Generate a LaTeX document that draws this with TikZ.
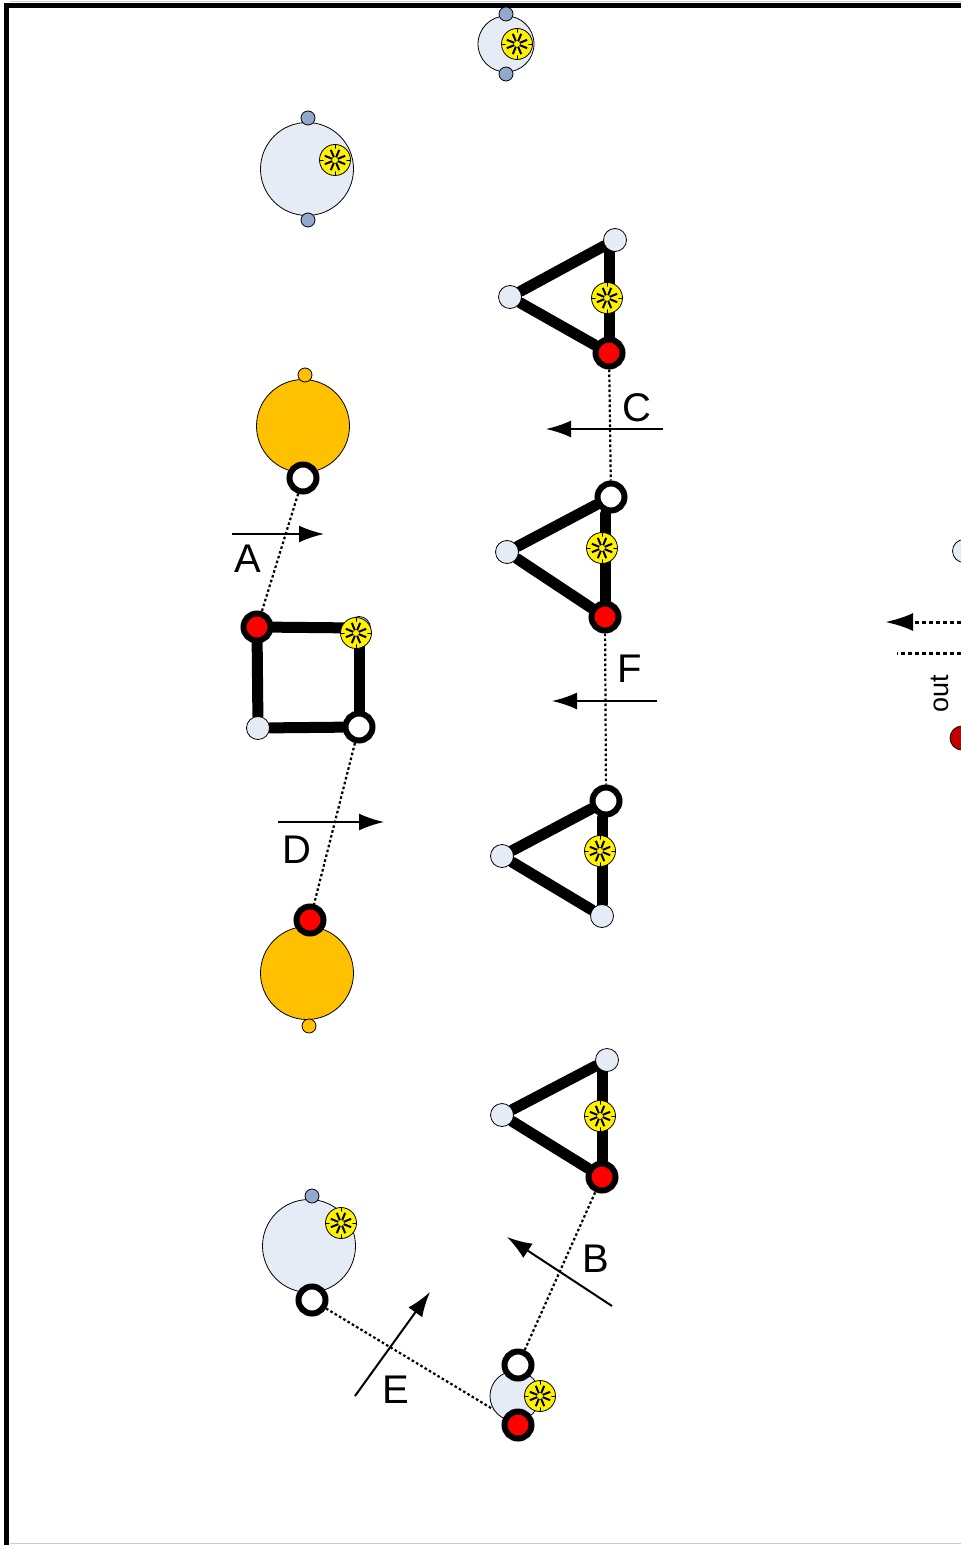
\documentclass[tikz,border=0pt]{standalone}
\usepackage{fontspec}
\setmainfont{Liberation Sans}
\usetikzlibrary{arrows.meta,backgrounds}
\definecolor{lightfill}{RGB}{230,236,246}
\definecolor{dotblue}{RGB}{146,168,204}
\definecolor{goalorange}{RGB}{255,192,0}
\definecolor{outred}{RGB}{192,0,0}
\tikzset{
    every node/.style={inner sep=0pt},
    zone/.style={circle, draw, line width=0.4pt, minimum size=46.5pt},
    marker/.style={circle, draw, line width=0.4pt, minimum size=7pt},
    cone/.style={circle, draw, fill=lightfill, line width=0.4pt, minimum size=11.5pt},
    player/.style={circle, draw, line width=3pt, minimum size=13.5pt},
    ball/.style={circle, draw, fill=yellow, line width=0.4pt, minimum size=15.5pt,
        path picture={
            \draw[line width=0.4pt] (path picture bounding box.north) -- (path picture bounding box.south)
                (path picture bounding box.west) -- (path picture bounding box.east);
            \begin{scope}[shift={(path picture bounding box.center)}]
                \foreach \a in {0,45,...,315}
                    \fill (\a:0.5pt) -- (\a-20:6pt) -- (\a+20:6pt) -- cycle;
                \foreach \a in {22.5,67.5,...,337.5}
                    \draw[line width=1pt] (0,0) -- (\a:5.5pt);
                \fill (0,0) circle (1.5pt);
            \end{scope}
        }},
    bar/.style={line width=5.5pt, line cap=round},
    pass/.style={line width=1.1pt, dash pattern=on 1.3pt off 1.2pt},
    run/.style={line width=1pt, -{Latex[length=12.5pt,width=8.5pt]}},
    lbl/.style={font=\fontsize{20}{24}\selectfont},
}
\begin{document}
\begin{tikzpicture}[x=0.5pt,y=-0.5pt]
\useasboundingbox (0,0) rectangle (961,1545);
% field border
\draw[gray!40, line width=0.5pt] (10,1.5) -- (961,1.5) (10,1543.5) -- (961,1543.5);
\draw[line width=2.5pt] (6.5,1545) -- (6.5,5.5) -- (961,5.5);

% keepers and goals
\node[zone, fill=lightfill, minimum size=28pt] (k1) at (506,44) {};
\node[marker, fill=dotblue] (k1n) at (506,14) {};
\node[marker, fill=dotblue] (k1s) at (506,74) {};
\node[ball] (b1) at (517,44) {};

\node[zone, fill=lightfill] (k2) at (307,169) {};
\node[marker, fill=dotblue] (k2n) at (308,118) {};
\node[marker, fill=dotblue] (k2s) at (308,220) {};
\node[ball] (b2) at (335,160) {};

\node[zone, fill=goalorange] (g1) at (303,426) {};
\node[marker, fill=goalorange] (g1n) at (305,375) {};
\node[player, fill=white] (w1) at (303,478) {};

\node[zone, fill=goalorange] (g2) at (307,973) {};
\node[marker, fill=goalorange] (g2s) at (309,1026) {};
\node[player, fill=red] (r2) at (310,920) {};

\node[zone, fill=lightfill] (k3) at (309,1246) {};
\node[marker, fill=dotblue] (k3n) at (312,1196) {};
\node[ball] (b3) at (341,1223) {};
\node[player, fill=white] (w3) at (312,1300) {};

\node[zone, fill=lightfill, minimum size=25pt] (k4) at (515,1396) {};
\node[player, fill=white] (w4) at (518,1365) {};
\node[player, fill=red] (r4) at (518,1425) {};
\node[ball] (b4) at (540,1396) {};

% square
\node[player, fill=red] (sqr) at (257,627) {};
\node[cone] (sqc) at (359,628) {};
\node[cone] (sql) at (258,728) {};
\node[player, fill=white] (sqw) at (359,727) {};
\node[ball] (sqb) at (356,633) {};

% triangles
\node[cone] (t1a) at (615,240) {};
\node[cone] (t1b) at (510,297) {};
\node[player, fill=red] (t1c) at (609,353) {};
\node[ball] (t1d) at (607,298) {};

\node[player, fill=white] (t2a) at (611,497) {};
\node[cone] (t2b) at (507,552) {};
\node[player, fill=red] (t2c) at (605,617) {};
\node[ball] (t2d) at (602,548) {};

\node[player, fill=white] (t3a) at (606,801) {};
\node[cone] (t3b) at (502,856) {};
\node[cone] (t3c) at (602,916) {};
\node[ball] (t3d) at (600,851) {};

\node[cone] (t4a) at (607,1060) {};
\node[cone] (t4b) at (502,1115) {};
\node[player, fill=red] (t4c) at (602,1177) {};
\node[ball] (t4d) at (600,1116) {};

% out zone at the edge
\node[cone] (oc) at (964,551) {};
\node[circle, draw, fill=outred, line width=0.4pt, minimum size=12pt] (or) at (962,738) {};
\node[lbl, font=\fontsize{13.5}{16}\selectfont, rotate=90] (out) at (940,694) {out};
\coordinate (o1) at (961,622);
\coordinate (o2) at (885,622);
\coordinate (o3) at (961,653);
\coordinate (o4) at (897,653);
\draw[line width=1.5pt, dash pattern=on 2pt off 1.5pt, -{Latex[length=14pt,width=9pt]}] (o1) -- (o2);
\draw[line width=1.5pt, dash pattern=on 2pt off 1.5pt] (o3) -- (o4);

% bars and passes
\begin{scope}[on background layer]
\draw[bar] (sqr) -- (sqc);
\draw[bar] (sqr) -- (sql);
\draw[bar] (sqc) -- (sqw);
\draw[bar] (sql) -- (sqw);
\foreach \t in {t1,t2,t3,t4} {
    \draw[bar] (\t b) -- (\t a);
    \draw[bar] (\t b) -- (\t c);
    \draw[bar] (\t c |- \t a.south) -- (\t c);
}
\draw[pass] (w1) -- (sqr);
\draw[pass] (sqw) -- (r2);
\draw[pass] (t1c) -- (t2a);
\draw[pass] (t2c) -- (t3a);
\draw[pass] (w4) -- (t4c);
\draw[pass] (w3) -- (k4.212);
\end{scope}

% runs
\coordinate (a1) at (232,534);
\coordinate (a2) at (324,534);
\coordinate (c1) at (663,429);
\coordinate (c2) at (546,429);
\coordinate (d1) at (278,822);
\coordinate (d2) at (384,822);
\coordinate (f1) at (657,701);
\coordinate (f2) at (552,701);
\coordinate (e1) at (355,1396);
\coordinate (e2) at (430,1292);
\coordinate (bb1) at (612,1306);
\coordinate (bb2) at (507,1237);
\draw[run] (a1) -- (a2);
\draw[run] (c1) -- (c2);
\draw[run] (d1) -- (d2);
\draw[run] (f1) -- (f2);
\draw[run] (e1) -- (e2);
\draw[run] (bb1) -- (bb2);
\node[lbl] (labA) at (248,559) {A};
\node[lbl] (labC) at (637,408) {C};
\node[lbl] (labD) at (297,850) {D};
\node[lbl] (labF) at (630,669) {F};
\node[lbl] (labB) at (596,1259) {B};
\node[lbl] (labE) at (396,1390) {E};
\end{tikzpicture}
\end{document}
